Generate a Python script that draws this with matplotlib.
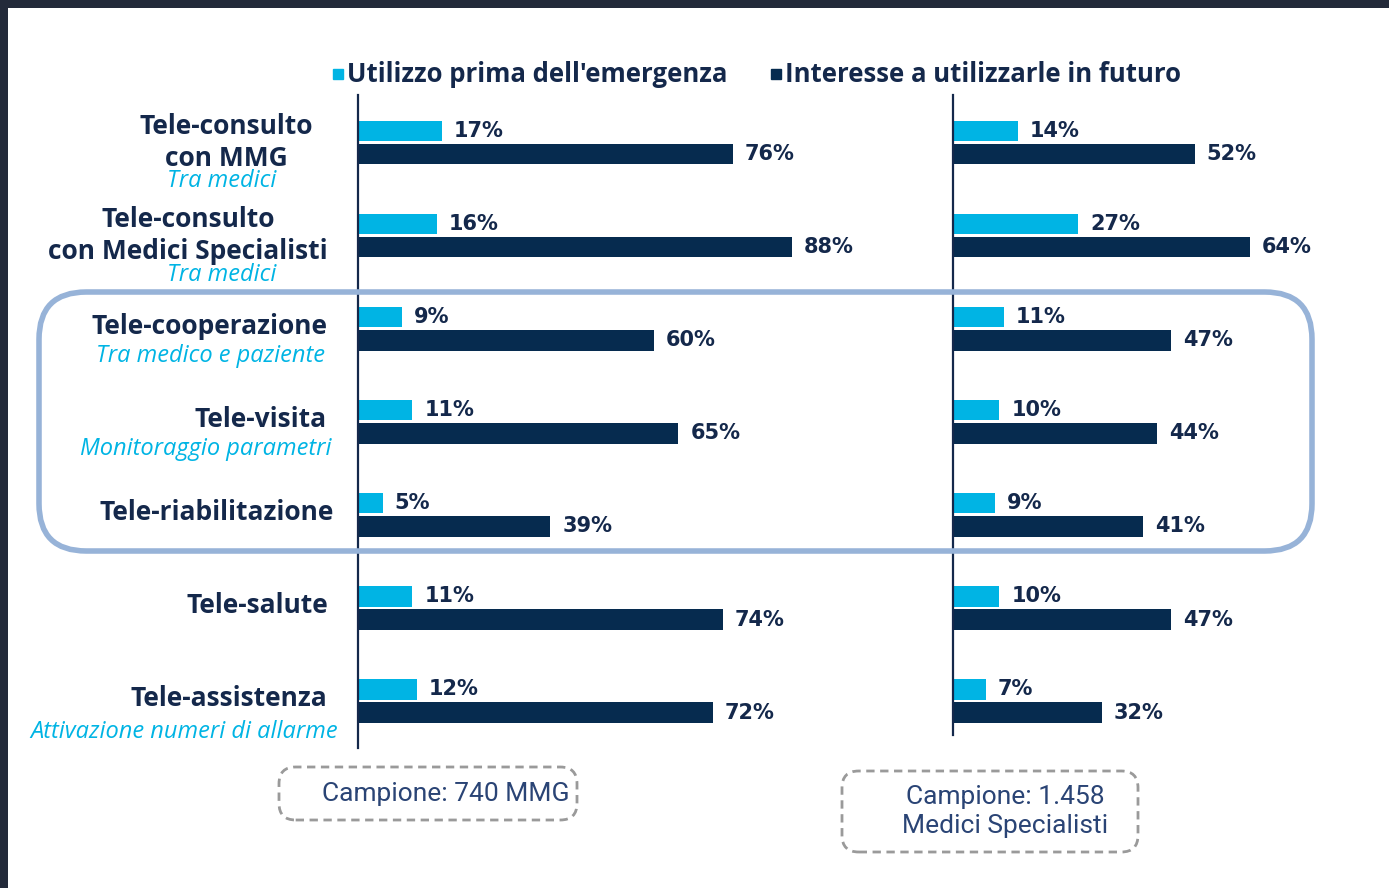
import matplotlib
matplotlib.use("Agg")
import matplotlib.pyplot as plt
from matplotlib.patches import FancyBboxPatch, Rectangle
from matplotlib.lines import Line2D

# data
labels = ["Tele-consulto\ncon MMG", "Tele-consulto\ncon Medici Specialisti",
          "Tele-cooperazione", "Tele-visita", "Tele-riabilitazione",
          "Tele-salute", "Tele-assistenza"]
sublabels = ["Tra medici", "Tra medici", "Tra medico e paziente",
             "Monitoraggio parametri", "", "", "Attivazione numeri di allarme"]
mmg_prima = [17, 16, 9, 11, 5, 11, 12]
mmg_futuro = [76, 88, 60, 65, 39, 74, 72]
spec_prima = [14, 27, 11, 10, 9, 10, 7]
spec_futuro = [52, 64, 47, 44, 41, 47, 32]
legend_labels = ["Utilizzo prima dell'emergenza", "Interesse a utilizzarle in futuro"]

CYAN = "#00b4e4"
NAVY = "#062b4f"
TXT = "#14284b"
W, H = 1389, 888

fig = plt.figure(figsize=(W / 100, H / 100), dpi=100, facecolor="#232a3a")
fig.patches.append(Rectangle((8 / W, 0), 1, 1 - 8 / H, transform=fig.transFigure,
                             facecolor="white", edgecolor="none", zorder=-5))

def px(x, y, w, h):
    return [x / W, 1 - (y + h) / H, w / W, h / H]

ax1 = fig.add_axes(px(358, 95, 493, 653))
ax2 = fig.add_axes(px(953, 95, 418, 653))

rows = list(range(len(labels)))
off = 0.125
bh = 0.22

for ax, prima, futuro, xmax, ybot in [(ax1, mmg_prima, mmg_futuro, 100, 6.505),
                                      (ax2, spec_prima, spec_futuro, 90, 6.36)]:
    ax.barh([r - off for r in rows], prima, height=bh, color=CYAN)
    ax.barh([r + off for r in rows], futuro, height=bh, color=NAVY)
    for r, v in zip(rows, prima):
        ax.annotate(f"{v}%", (v, r - off), xytext=(12, 0), textcoords="offset pixels",
                    va="center", ha="left", fontsize=15, fontweight="bold",
                    color=TXT, family="DejaVu Sans")
    for r, v in zip(rows, futuro):
        ax.annotate(f"{v}%", (v, r + off), xytext=(12, 0), textcoords="offset pixels",
                    va="center", ha="left", fontsize=15, fontweight="bold",
                    color=TXT, family="DejaVu Sans")
    ax.set_xlim(0, xmax)
    ax.set_ylim(6.505, -0.51)
    ax.axis("off")
    ax.plot([0, 0], [-0.51, ybot], color=TXT, lw=1.6, clip_on=False)

# category labels
main_dx = [-45, -30, -30, -31, -24, -30, -31]
sub_pos = [(-136, "center"), (-136, "center"), (-33, "right"), (-27, "right"),
           (0, "right"), (0, "right"), (-20, "right")]
for r, (lab, sub) in enumerate(zip(labels, sublabels)):
    two = "\n" in lab
    ax1.annotate(lab, (0, r), xytext=(main_dx[r], 2 if not two else 0),
                 textcoords="offset pixels", ha="right", va="center",
                 multialignment="center", fontsize=19, fontweight="bold",
                 color=TXT, family="Open Sans", linespacing=1.2)
    if sub:
        dy = -39 if two else -27
        if r == 6:
            dy = -31
        ax1.annotate(sub, (0, r), xytext=(sub_pos[r][0], dy), textcoords="offset pixels",
                     ha=sub_pos[r][1], va="center", fontsize=17, style="italic",
                     color=CYAN, family="Open Sans")

# highlight box around rows 3-5
fig.patches.append(FancyBboxPatch((39 / W, 1 - 551 / H), 1273 / W, 259 / H,
                                  boxstyle="round,pad=0,rounding_size=0.034",
                                  transform=fig.transFigure, facecolor="none",
                                  edgecolor="#97b3d8", lw=4, zorder=5,
                                  mutation_aspect=W / H))

# legend
handles = [Line2D([], [], marker="s", ls="none", color=CYAN, markersize=7),
           Line2D([], [], marker="s", ls="none", color=NAVY, markersize=7)]
fig.legend(handles, legend_labels, loc="center", bbox_to_anchor=(756 / W, 1 - 75 / H),
           ncol=2, frameon=False, handletextpad=0.05, columnspacing=1.6,
           prop={"family": "Open Sans", "weight": "bold", "size": 18.5},
           labelcolor=TXT, handlelength=0.6)

# sample boxes
for (x, y, w, h), dx, txt in [((279, 767, 298, 53), 18, "Campione: 740 MMG"),
                              ((842, 771, 296, 81), 15, "Campione: 1.458\nMedici Specialisti")]:
    fig.patches.append(FancyBboxPatch((x / W, 1 - (y + h) / H), w / W, h / H,
                                      boxstyle="round,pad=0,rounding_size=0.012",
                                      transform=fig.transFigure, facecolor="none",
                                      edgecolor="#9a9a9a", lw=2, ls=(0, (3, 2)),
                                      mutation_aspect=W / H))
    fig.text((x + w / 2 + dx) / W, 1 - (y + h / 2) / H, txt, ha="center", va="center",
             fontsize=19, color="#2a4475", family="Roboto", fontweight="normal",
             linespacing=1.25)

fig.savefig("out.png", dpi=100, facecolor=fig.get_facecolor())
